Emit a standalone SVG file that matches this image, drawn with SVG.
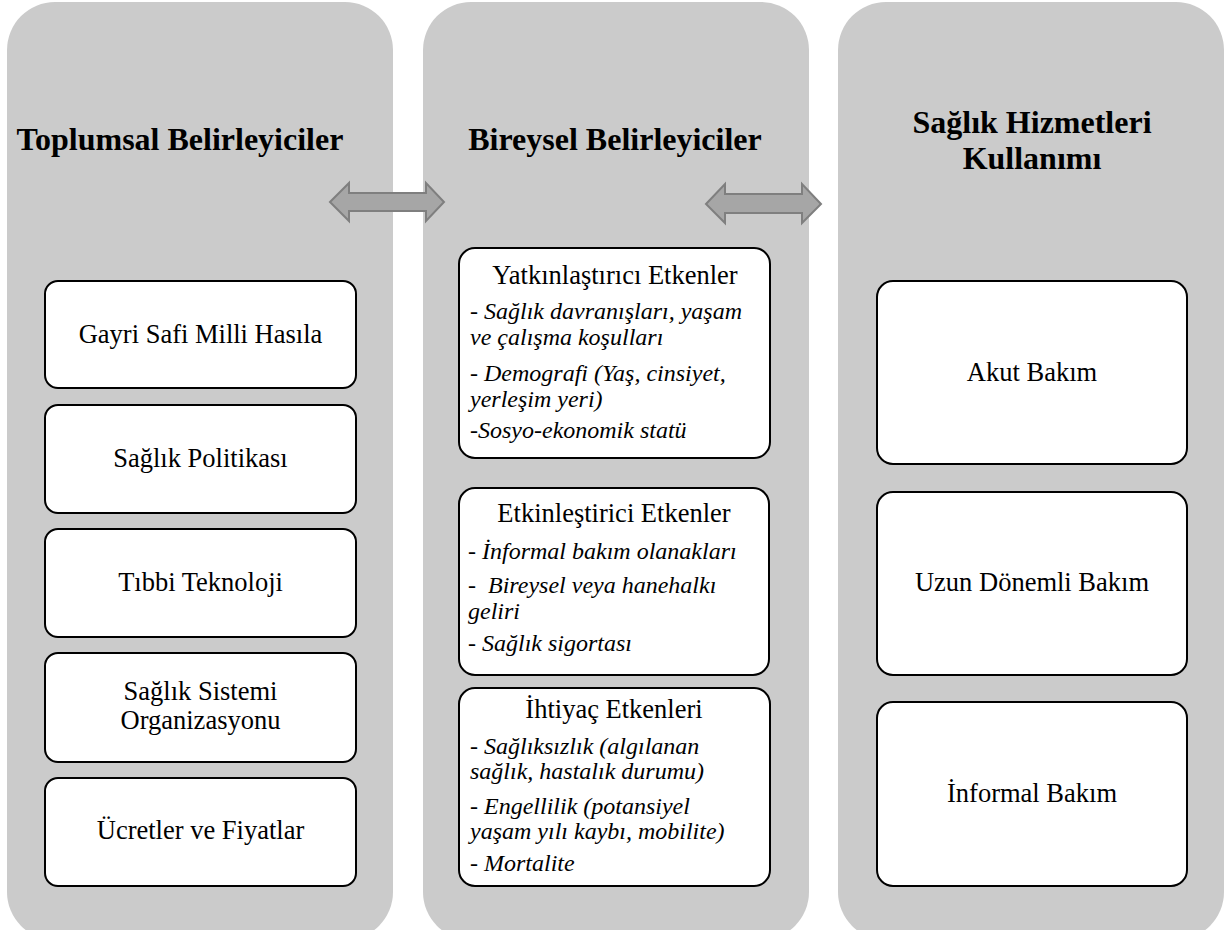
<svg xmlns="http://www.w3.org/2000/svg" width="1224" height="930" viewBox="0 0 1224 930" font-family="Liberation Serif, Tinos, DejaVu Serif, serif">
<style>
.panel{fill:#cbcbcb;}
.box{fill:#ffffff;stroke:#000000;stroke-width:2;}
.arrow{fill:#a6a6a6;stroke:#7f7f7f;stroke-width:2;stroke-linejoin:miter;}
text{font-family:'Liberation Serif','Tinos','DejaVu Serif',serif;fill:#000;}
.title{font-size:32px;font-weight:bold;text-anchor:middle;}
.lbl{font-size:26.5px;text-anchor:middle;}
.it{font-size:24px;font-style:italic;}
</style>
<rect width="1224" height="930" fill="#ffffff"/>
<g id="panel-toplumsal">
<rect class="panel" x="7" y="2" width="386" height="938" rx="48" ry="48"/>
<text class="title" x="180" y="150">Toplumsal Belirleyiciler</text>
</g>
<g id="panel-bireysel">
<rect class="panel" x="423" y="2" width="386" height="938" rx="48" ry="48"/>
<text class="title" x="615" y="150">Bireysel Belirleyiciler</text>
</g>
<g id="panel-kullanim">
<rect class="panel" x="838" y="2" width="386" height="938" rx="48" ry="48"/>
<text class="title" x="1032" y="133">Sağlık Hizmetleri</text>
<text class="title" x="1032" y="169">Kullanımı</text>
</g>
<g id="connectors">
<polygon class="arrow" points="330,202 349,183 349,193 426,193 426,183 444,202 426,221 426,211 349,211 349,221"/>
<polygon class="arrow" points="706,204 725,184 725,194 802,194 802,184 821,204 802,223 802,213 725,213 725,223"/>
</g>
<g id="node-gsmh">
<rect class="box" x="45" y="281" width="311" height="107" rx="13"/>
<text class="lbl" x="200.5" y="343">Gayri Safi Milli Hasıla</text>
</g>
<g id="node-politika">
<rect class="box" x="45" y="405" width="311" height="108" rx="13"/>
<text class="lbl" x="200.5" y="467">Sağlık Politikası</text>
</g>
<g id="node-teknoloji">
<rect class="box" x="45" y="529" width="311" height="108" rx="13"/>
<text class="lbl" x="200.5" y="591">Tıbbi Teknoloji</text>
</g>
<g id="node-organizasyon">
<rect class="box" x="45" y="653" width="311" height="109" rx="13"/>
<text class="lbl" x="200.5" y="700">Sağlık Sistemi</text>
<text class="lbl" x="200.5" y="729">Organizasyonu</text>
</g>
<g id="node-ucretler">
<rect class="box" x="45" y="778" width="311" height="108" rx="13"/>
<text class="lbl" x="200.5" y="839">Ücretler ve Fiyatlar</text>
</g>
<g id="node-yatkinlastirici">
<rect class="box" x="459" y="248" width="311" height="210" rx="16"/>
<text class="lbl" x="615" y="284">Yatkınlaştırıcı Etkenler</text>
<text class="it" x="470" y="319">- Sağlık davranışları, yaşam</text>
<text class="it" x="470" y="345">ve çalışma koşulları</text>
<text class="it" x="470" y="381">- Demografi (Yaş, cinsiyet,</text>
<text class="it" x="470" y="407">yerleşim yeri)</text>
<text class="it" x="470" y="438">-Sosyo-ekonomik statü</text>
</g>
<g id="node-etkinlestirici">
<rect class="box" x="459" y="488" width="310" height="187" rx="16"/>
<text class="lbl" x="614" y="522">Etkinleştirici Etkenler</text>
<text class="it" x="468" y="559">- İnformal bakım olanakları</text>
<text class="it" x="468" y="593" xml:space="preserve">-  Bireysel veya hanehalkı</text>
<text class="it" x="468" y="619">geliri</text>
<text class="it" x="468" y="651">- Sağlık sigortası</text>
</g>
<g id="node-ihtiyac">
<rect class="box" x="459" y="688" width="311" height="198" rx="16"/>
<text class="lbl" x="614" y="718">İhtiyaç Etkenleri</text>
<text class="it" x="470" y="754">- Sağlıksızlık (algılanan</text>
<text class="it" x="470" y="779">sağlık, hastalık durumu)</text>
<text class="it" x="470" y="814">- Engellilik (potansiyel</text>
<text class="it" x="470" y="839">yaşam yılı kaybı, mobilite)</text>
<text class="it" x="470" y="871">- Mortalite</text>
</g>
<g id="node-akut">
<rect class="box" x="877" y="281" width="310" height="183" rx="16"/>
<text class="lbl" x="1032" y="381">Akut Bakım</text>
</g>
<g id="node-uzun">
<rect class="box" x="877" y="492" width="310" height="183" rx="16"/>
<text class="lbl" x="1032" y="591">Uzun Dönemli Bakım</text>
</g>
<g id="node-informal">
<rect class="box" x="877" y="702" width="310" height="184" rx="16"/>
<text class="lbl" x="1032" y="802">İnformal Bakım</text>
</g>
</svg>
